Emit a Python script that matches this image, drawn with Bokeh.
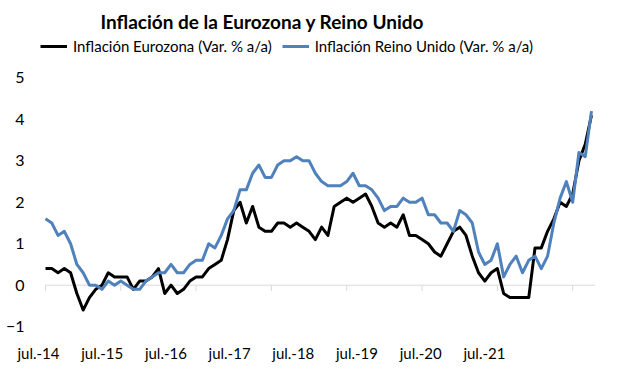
from bokeh.plotting import figure
from bokeh.models import (Range1d, LinearAxis, FixedTicker, Legend, LegendItem, ColumnDataSource)
from bokeh.embed import file_html
from bokeh.resources import INLINE

# Monthly data, jul-2014 .. oct-2021
start_month = "2014-07"
eurozona = [0.4, 0.4, 0.3, 0.4, 0.3, -0.2,
            -0.6, -0.3, -0.1, 0.0, 0.3, 0.2, 0.2, 0.2, -0.1, 0.1, 0.1, 0.2,
            0.4, -0.2, 0.0, -0.2, -0.1, 0.1, 0.2, 0.2, 0.4, 0.5, 0.6, 1.1,
            1.8, 2.0, 1.5, 1.9, 1.4, 1.3, 1.3, 1.5, 1.5, 1.4, 1.5, 1.4,
            1.3, 1.1, 1.4, 1.2, 1.9, 2.0, 2.1, 2.0, 2.1, 2.2, 1.9, 1.5,
            1.4, 1.5, 1.4, 1.7, 1.2, 1.2, 1.1, 1.0, 0.8, 0.7, 1.0, 1.3,
            1.4, 1.2, 0.7, 0.3, 0.1, 0.3, 0.4, -0.2, -0.3, -0.3, -0.3, -0.3,
            0.9, 0.9, 1.3, 1.6, 2.0, 1.9, 2.2, 3.0, 3.4, 4.1]
reino_unido = [1.6, 1.5, 1.2, 1.3, 1.0, 0.5,
               0.3, 0.0, 0.0, -0.1, 0.1, 0.0, 0.1, 0.0, -0.1, -0.1, 0.1, 0.2,
               0.3, 0.3, 0.5, 0.3, 0.3, 0.5, 0.6, 0.6, 1.0, 0.9, 1.2, 1.6,
               1.8, 2.3, 2.3, 2.7, 2.9, 2.6, 2.6, 2.9, 3.0, 3.0, 3.1, 3.0,
               3.0, 2.7, 2.5, 2.4, 2.4, 2.4, 2.5, 2.7, 2.4, 2.4, 2.3, 2.1,
               1.8, 1.9, 1.9, 2.1, 2.0, 2.0, 2.1, 1.7, 1.7, 1.5, 1.5, 1.3,
               1.8, 1.7, 1.5, 0.8, 0.5, 0.6, 1.0, 0.2, 0.5, 0.7, 0.3, 0.6,
               0.7, 0.4, 0.7, 1.5, 2.1, 2.5, 2.0, 3.2, 3.1, 4.2]
tick_labels = ["jul.-14", "jul.-15", "jul.-16", "jul.-17", "jul.-18", "jul.-19", "jul.-20", "jul.-21"]
y_ticks = [-1, 0, 1, 2, 3, 4, 5]
series_names = ["Inflación Eurozona (Var. % a/a)", "Inflación Reino Unido (Var. % a/a)"]
title_text = "Inflación de la Eurozona y Reino Unido"

months = list(range(len(eurozona)))
year_ticks = months[::12]

FONT = "Lato"
W, H = 606, 364
BL, BR, BT, BB = 37, 9, 34, 24

p = figure(width=W, height=H, output_backend="svg", toolbar_location=None,
           x_axis_location=None,
           x_range=Range1d(-1.2747, 87.956), y_range=Range1d(-1.238, 6.048),
           min_border_left=BL, min_border_right=BR, min_border_top=BT, min_border_bottom=BB)
p.extra_x_ranges = {"lab": Range1d(-0.0157, 8.7755)}
p.outline_line_color = None
p.xgrid.visible = False
p.ygrid.visible = False
p.background_fill_color = "white"
p.border_fill_color = "white"

p.title.text = title_text
p.title.align = "left"
p.title.text_font = FONT
p.title.text_font_style = "bold"
p.title.text_font_size = "19px"
p.title.text_color = "#000000"
p.title.standoff = 4
p.title.offset = 63

# y axis
p.yaxis.ticker = FixedTicker(ticks=y_ticks)
p.yaxis.axis_line_color = None
p.yaxis.major_tick_line_color = None
p.yaxis.minor_tick_line_color = None
p.yaxis.major_tick_out = 0
p.yaxis.major_tick_in = 0
p.yaxis.minor_tick_out = 0
p.yaxis.major_label_text_font = FONT
p.yaxis.major_label_text_font_size = "16px"
p.yaxis.major_label_text_color = "#000000"
p.yaxis.major_label_standoff = 13

# x labels axis
xa = LinearAxis(x_range_name="lab", ticker=FixedTicker(ticks=list(range(len(tick_labels)))),
                major_label_overrides={i: t for i, t in enumerate(tick_labels)})
xa.axis_line_color = None
xa.major_tick_line_color = None
xa.minor_tick_line_color = None
xa.major_tick_out = 0
xa.major_tick_in = 0
xa.minor_tick_out = 0
xa.major_label_text_font = FONT
xa.major_label_text_font_size = "15px"
xa.major_label_text_color = "#000000"
xa.major_label_standoff = 7
p.add_layout(xa, "below")

# category axis line at zero with tick marks
p.segment(x0=[months[0]], y0=[0], x1=[months[-1] + 0.6], y1=[0], line_color="#D9D9D9", line_width=1)
p.segment(x0=year_ticks, y0=[0] * len(year_ticks), x1=year_ticks, y1=[-0.14] * len(year_ticks),
          line_color="#D9D9D9", line_width=1)

src = ColumnDataSource(dict(x=months, ez=eurozona, uk=reino_unido))
r1 = p.line("x", "ez", source=src, line_color="#000000", line_width=3, line_join="round")
r2 = p.line("x", "uk", source=src, line_color="#4F81BD", line_width=3, line_join="round")

legend = Legend(items=[LegendItem(label=series_names[0], renderers=[r1]),
                       LegendItem(label=series_names[1], renderers=[r2])],
                orientation="horizontal", location=(3, 281))
legend.label_text_font = FONT
legend.label_text_font_size = "15px"
legend.label_text_color = "#000000"
legend.glyph_width = 27
legend.glyph_height = 18
legend.label_height = 18
legend.label_standoff = 6
legend.spacing = 10
legend.padding = 0
legend.margin = 0
legend.border_line_color = None
legend.background_fill_alpha = 0
p.add_layout(legend, "center")

open("out.html", "w").write(file_html(p, INLINE))
